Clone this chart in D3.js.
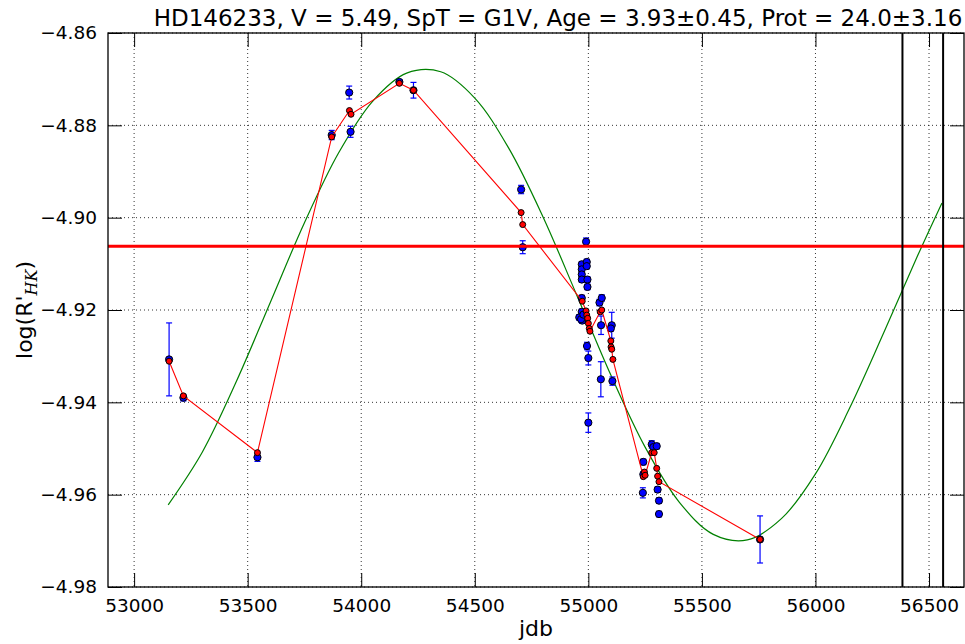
<!DOCTYPE html>
<html>
<head>
<meta charset="utf-8">
<script src="https://d3js.org/d3.v7.min.js"></script>
<style>
  body { margin: 0; background: #fff; }
  svg text { font-family: "DejaVu Sans", sans-serif; fill: #000; }
</style>
</head>
<body>
<svg id="chart" width="965" height="644"></svg>
<script>
// observations: jdb, log(R'HK), error
var obsJdb = [53154, 53217, 53543, 53870, 53947, 53953, 54168, 54230, 54704, 54711,
  54990, 54971, 54971, 54971, 54971, 54993, 54993, 54996, 54996, 54971,
  54971, 54960, 54973, 54985, 54968, 54978, 54994, 55000, 55049, 55059,
  55056, 55103, 55099, 55055, 55106, 55000, 55242, 55242, 55240, 55279,
  55286, 55301, 55305, 55311, 55311, 55756];
var obsVal = [-4.9307, -4.9390, -4.9519, -4.8821, -4.8729, -4.8814, -4.8706, -4.8724, -4.8939, -4.9064,
  -4.9052, -4.9101, -4.9112, -4.9123, -4.9134, -4.9096, -4.9105, -4.9134, -4.9150, -4.9174,
  -4.9204, -4.9216, -4.9223, -4.9212, -4.9220, -4.9210, -4.9278, -4.9304, -4.9184, -4.9174,
  -4.9233, -4.9233, -4.9240, -4.9350, -4.9354, -4.9444, -4.9529, -4.9556, -4.9596, -4.9491,
  -4.9497, -4.9495, -4.9589, -4.9613, -4.9642, -4.9697];
var obsErr = [0.0079, 0.0007, 0.0009, 0.0010, 0.0014, 0.0012, 0.0005, 0.0017, 0.0009, 0.0014,
  0.0008, 0.0006, 0.0006, 0.0006, 0.0006, 0.0006, 0.0006, 0.0006, 0.0006, 0.0006,
  0.0006, 0.0006, 0.0006, 0.0006, 0.0006, 0.0006, 0.0008, 0.0015, 0.0007, 0.0007,
  0.0020, 0.0028, 0.0006, 0.0038, 0.0009, 0.0021, 0.0006, 0.0006, 0.0011, 0.0008,
  0.0006, 0.0006, 0.0006, 0.0006, 0.0006, 0.0051];

// red smoothed series
var redJdb = [53154, 53217, 53543, 53870, 53948, 53955, 54168, 54230, 54704, 54711,
  54973, 54990, 54993, 54997, 55000, 55004, 55007, 55052, 55059, 55099,
  55100, 55103, 55108, 55242, 55247, 55250, 55279, 55290, 55301, 55305,
  55311, 55756];
var redVal = [-4.9311, -4.9386, -4.9509, -4.8825, -4.8768, -4.8776, -4.8709, -4.8724, -4.8989, -4.9015,
  -4.9181, -4.9202, -4.9211, -4.9218, -4.9229, -4.9240, -4.9246, -4.9204, -4.9200, -4.9267,
  -4.9280, -4.9285, -4.9307, -4.9561, -4.9551, -4.9558, -4.9509, -4.9509, -4.9543, -4.9560,
  -4.9572, -4.9697];

// green cycle fit
var fitJdb = [53150, 53300, 53450, 53600, 53750, 53900, 54050, 54200, 54350, 54500,
  54650, 54800, 54950, 55100, 55250, 55400, 55550, 55700, 55850, 56000,
  56150, 56300, 56450, 56557];
var fitVal = [-4.9622, -4.9508, -4.9355, -4.9183, -4.9011, -4.8860, -4.8748, -4.8687, -4.8684, -4.8741,
  -4.8850, -4.8998, -4.9169, -4.9342, -4.9497, -4.9616, -4.9686, -4.9698, -4.9652, -4.9555,
  -4.9413, -4.9250, -4.9082, -4.8968];

var meanLevel = -4.9062;
var markJdb = [56383, 56562];

var xTicks = [53000, 53500, 54000, 54500, 55000, 55500, 56000, 56500];
var yTicks = [-4.98, -4.96, -4.94, -4.92, -4.90, -4.88, -4.86];

var pL = 108, pR = 964, pT = 33, pB = 587;
var svg = d3.select("#chart");
svg.append("rect").attr("width", 965).attr("height", 644).attr("fill", "#fff");

var x = d3.scaleLinear().domain([52885, 56654]).range([pL, pR]);
var y = d3.scaleLinear().domain([-4.98, -4.86]).range([pB, pT]);

// grid
var grid = svg.append("g").attr("stroke", "#000").attr("stroke-width", 0.8)
  .attr("stroke-dasharray", "1,3");
xTicks.forEach(function(t) {
  grid.append("line").attr("x1", x(t)).attr("x2", x(t)).attr("y1", pT).attr("y2", pB);
});
yTicks.forEach(function(t) {
  grid.append("line").attr("x1", pL).attr("x2", pR).attr("y1", y(t)).attr("y2", y(t));
});

// green fit
var fitData = fitJdb.map(function(d, i) { return [d, fitVal[i]]; });
svg.append("path").datum(fitData)
  .attr("fill", "none").attr("stroke", "#008000").attr("stroke-width", 1.2)
  .attr("d", d3.line().x(function(d) { return x(d[0]); }).y(function(d) { return y(d[1]); })
    .curve(d3.curveCatmullRom));

// error bars + blue points
var obs = obsJdb.map(function(d, i) { return {j: d, v: obsVal[i], e: obsErr[i]}; });
var eb = svg.append("g").attr("stroke", "#0000ff").attr("stroke-width", 1.2);
obs.forEach(function(d) {
  var cx = x(d.j), y1 = y(d.v + d.e), y2 = y(d.v - d.e);
  eb.append("line").attr("x1", cx).attr("x2", cx).attr("y1", y1).attr("y2", y2);
  eb.append("line").attr("x1", cx - 3).attr("x2", cx + 3).attr("y1", y1).attr("y2", y1);
  eb.append("line").attr("x1", cx - 3).attr("x2", cx + 3).attr("y1", y2).attr("y2", y2);
});
svg.append("g").selectAll("circle").data(obs).enter().append("circle")
  .attr("cx", function(d) { return x(d.j); })
  .attr("cy", function(d) { return y(d.v); })
  .attr("r", 3.6).attr("fill", "#0000ff").attr("stroke", "#000").attr("stroke-width", 1);

// red series
var red = redJdb.map(function(d, i) { return [d, redVal[i]]; });
svg.append("path").datum(red)
  .attr("fill", "none").attr("stroke", "#ff0000").attr("stroke-width", 1.1)
  .attr("d", d3.line().x(function(d) { return x(d[0]); }).y(function(d) { return y(d[1]); }));
svg.append("g").selectAll("circle").data(red).enter().append("circle")
  .attr("cx", function(d) { return x(d[0]); })
  .attr("cy", function(d) { return y(d[1]); })
  .attr("r", 3).attr("fill", "#ff0000").attr("stroke", "#000").attr("stroke-width", 1);

// mean level
svg.append("line").attr("x1", pL).attr("x2", pR)
  .attr("y1", y(meanLevel)).attr("y2", y(meanLevel))
  .attr("stroke", "#ff0000").attr("stroke-width", 3);

// vertical markers
markJdb.forEach(function(m) {
  svg.append("line").attr("x1", x(m)).attr("x2", x(m)).attr("y1", pT).attr("y2", pB)
    .attr("stroke", "#000").attr("stroke-width", 2);
});

// axes
var fmt = d3.format(".2f");
function styleAxis(g) {
  g.select(".domain").remove();
  g.selectAll(".tick line").attr("stroke", "#000").attr("stroke-width", 1);
  g.selectAll("text").attr("font-size", "18.5px").attr("font-family", "DejaVu Sans");
}
svg.append("g").attr("transform", "translate(0," + pB + ")")
  .call(d3.axisBottom(x).tickValues(xTicks).tickFormat(d3.format("d"))
    .tickSizeInner(-14).tickSizeOuter(0).tickPadding(11.5))
  .call(styleAxis);
svg.append("g").attr("transform", "translate(0," + pT + ")")
  .call(d3.axisTop(x).tickValues(xTicks).tickFormat("").tickSizeInner(-14).tickSizeOuter(0))
  .call(styleAxis);
svg.append("g").attr("transform", "translate(" + pL + ",0)")
  .call(d3.axisLeft(y).tickValues(yTicks).tickFormat(fmt)
    .tickSizeInner(-14).tickSizeOuter(0).tickPadding(11))
  .call(styleAxis);
svg.append("g").attr("transform", "translate(" + pR + ",0)")
  .call(d3.axisRight(y).tickValues(yTicks).tickFormat("").tickSizeInner(-14).tickSizeOuter(0))
  .call(styleAxis);

// frame
svg.append("rect").attr("x", pL).attr("y", pT)
  .attr("width", pR - pL).attr("height", pB - pT)
  .attr("fill", "none").attr("stroke", "#000").attr("stroke-width", 1.3);

// title
svg.append("text").attr("x", 558).attr("y", 26)
  .attr("text-anchor", "middle").attr("font-size", "23px")
  .text("HD146233, V = 5.49, SpT = G1V, Age = 3.93\u00b10.45, Prot = 24.0\u00b13.16");

// x label
svg.append("text").attr("x", (pL + pR) / 2).attr("y", 636)
  .attr("text-anchor", "middle").attr("font-size", "22px").text("jdb");

// y label
var yl = svg.append("text").attr("transform", "translate(32," + ((pT + pB) / 2) + ") rotate(-90)")
  .attr("text-anchor", "middle").attr("font-size", "22px");
yl.append("tspan").text("log(R'");
yl.append("tspan").attr("font-family", "DejaVu Serif").attr("font-style", "italic")
  .attr("font-size", "16px").attr("dy", "5").text("HK");
yl.append("tspan").attr("dy", "-5").text(")");
</script>
</body>
</html>
